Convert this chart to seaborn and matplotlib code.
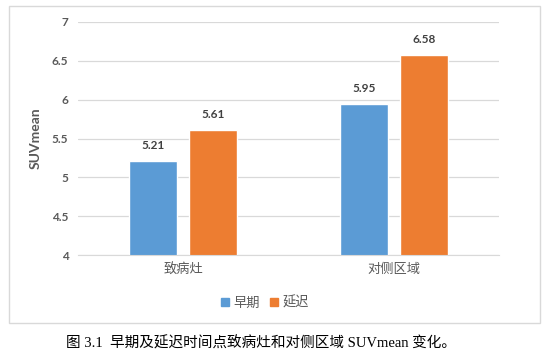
import pandas as pd
import matplotlib.pyplot as plt
import seaborn as sns
from matplotlib.patches import Rectangle

# Chart data
categories = ['致病灶', '对侧区域']
series = ['早期', '延迟']
early_values = [5.21, 5.95]
delayed_values = [5.61, 6.58]
y_ticks = [4, 4.5, 5, 5.5, 6, 6.5, 7]

colors = {'早期': '#5B9BD5', '延迟': '#ED7D31'}
cjk = ['Liberation Serif', 'Noto Sans CJK SC']

df = pd.DataFrame({
    'region': categories * 2,
    'time': [series[0]] * len(categories) + [series[1]] * len(categories),
    'value': early_values + delayed_values,
})

sns.set_style('white')
plt.rcParams['font.family'] = ['Lato', 'Noto Sans CJK SC']

fig = plt.figure(figsize=(5.49, 3.60), dpi=100)

# outer chart frame
fig.patches.append(Rectangle((9 / 549, 1 - 323 / 360), 531 / 549, 317 / 360,
                             transform=fig.transFigure, fill=False,
                             edgecolor='#D9D9D9', linewidth=1.0))

ax = fig.add_axes([78 / 549, 1 - 255 / 360, 421 / 549, 233 / 360])
sns.barplot(data=df, x='region', y='value', hue='time', order=categories,
            hue_order=series, palette=colors, width=0.57, gap=0.2,
            saturation=1, legend=False, ax=ax)

ax.set_ylim(4, 7)
ax.set_yticks(y_ticks)
ax.set_yticklabels([f'{t:g}' for t in y_ticks], fontsize=8.5, fontweight='bold', color='#595959')
ax.grid(axis='y', color='#D9D9D9', linewidth=0.9)
ax.set_axisbelow(True)
for s in ax.spines.values():
    s.set_visible(False)
ax.spines['bottom'].set_visible(True)
ax.spines['bottom'].set_color('#D9D9D9')
ax.tick_params(axis='both', length=0, pad=7)
ax.set_xlabel('')
ax.set_xticks(range(len(categories)))
ax.set_xticklabels(categories, family=cjk, fontsize=9.5, color='#595959')
ax.tick_params(axis='x', pad=6)
ax.set_ylabel('SUVmean', fontsize=10, fontweight='bold', color='#595959', labelpad=7)

# value labels
for cont in ax.containers:
    for bar in cont:
        h = bar.get_height()
        ax.annotate(f'{h:.2f}', (bar.get_x() + bar.get_width() / 2, h),
                    xytext=(0, 11), textcoords='offset points',
                    ha='center', va='center', fontsize=8.5, fontweight='bold',
                    color='#404040')

# legend
handles = [Rectangle((0, 0), 1, 1, color=colors[s]) for s in series]
fig.legend(handles, series, loc='center', bbox_to_anchor=(265 / 549, 1 - 303 / 360),
           ncol=2, frameon=False, prop={'family': cjk, 'size': 9.5},
           labelcolor='#595959', handlelength=0.6, handleheight=0.6,
           handletextpad=0.3, columnspacing=0.8)

# caption
fig.text(261 / 549, 1 - 343 / 360, '图 3.1  早期及延迟时间点致病灶和对侧区域 SUVmean 变化。',
         ha='center', va='center', family=cjk, fontsize=10.5, color='#000000')

fig.savefig('out.png', dpi=100)
